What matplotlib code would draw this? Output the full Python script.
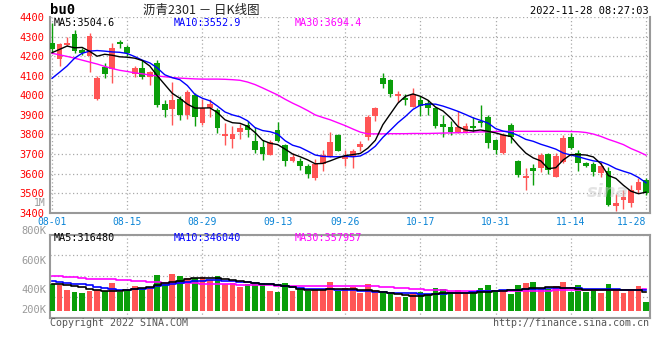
import matplotlib
matplotlib.use("Agg")
import matplotlib.pyplot as plt
import numpy as np
from matplotlib.ticker import LinearLocator

plt.rcParams['font.family'] = ['DejaVu Sans Mono', 'Noto Sans CJK SC']

# daily candles for bu2301
opens = [4268, 4187, 4255, 4315, 4232, 4200, 3982, 4146, 4136, 4271,
         4249, 4109, 4140, 4095, 4167, 3954, 3930, 3983, 3899, 4000,
         3860, 3937, 3925, 3792, 3777, 3814, 3848, 3769, 3736, 3697,
         3822, 3746, 3664, 3664, 3639, 3579, 3647, 3686, 3797, 3674,
         3692, 3734, 3785, 3896, 4087, 4078, 3996, 3988, 3942, 3976,
         3962, 3933, 3853, 3840, 3814, 3809, 3843, 3870, 3891, 3772,
         3703, 3848, 3666, 3576, 3627, 3630, 3698, 3585, 3661, 3789,
         3703, 3652, 3647, 3605, 3613, 3434, 3465, 3448, 3516, 3567]
highs = [4370, 4268, 4300, 4335, 4240, 4318, 4100, 4163, 4266, 4281,
         4258, 4150, 4180, 4125, 4180, 3975, 4070, 3995, 4025, 4010,
         3983, 3980, 3935, 3857, 3845, 3852, 3870, 3840, 3772, 3772,
         3865, 3750, 3704, 3682, 3650, 3674, 3720, 3814, 3800, 3720,
         3725, 3766, 3899, 3942, 4114, 4082, 4022, 4005, 4036, 3996,
         3976, 3942, 3899, 3870, 3919, 3857, 3891, 3951, 3899, 3775,
         3809, 3857, 3670, 3627, 3647, 3703, 3703, 3703, 3797, 3806,
         3720, 3661, 3661, 3661, 3635, 3496, 3516, 3542, 3576, 3576]
lows = [4218, 4151, 4250, 4215, 4205, 4120, 3978, 4087, 4061, 4240,
        4200, 4092, 4083, 4052, 3939, 3890, 3848, 3874, 3878, 3843,
        3848, 3890, 3806, 3746, 3732, 3777, 3785, 3707, 3669, 3693,
        3764, 3639, 3660, 3618, 3579, 3567, 3615, 3683, 3714, 3639,
        3627, 3717, 3772, 3870, 4036, 3990, 3967, 3951, 3940, 3894,
        3899, 3831, 3788, 3797, 3806, 3806, 3814, 3840, 3732, 3698,
        3700, 3754, 3585, 3516, 3542, 3606, 3596, 3580, 3655, 3725,
        3613, 3635, 3588, 3585, 3434, 3409, 3417, 3431, 3499, 3490]
closes = [4235, 4264, 4269, 4225, 4218, 4302, 4088, 4109, 4240, 4264,
          4215, 4140, 4096, 4120, 3950, 3925, 3976, 3899, 4015, 3888,
          3935, 3954, 3834, 3802, 3802, 3831, 3823, 3723, 3702, 3762,
          3766, 3666, 3686, 3639, 3599, 3647, 3695, 3760, 3717, 3690,
          3717, 3751, 3891, 3937, 4056, 4005, 4005, 3976, 4005, 3947,
          3937, 3845, 3840, 3814, 3836, 3843, 3834, 3860, 3755, 3720,
          3797, 3788, 3593, 3588, 3615, 3695, 3618, 3690, 3780, 3729,
          3652, 3639, 3610, 3639, 3439, 3448, 3479, 3516, 3558, 3502]

ma5 = [4218, 4235, 4252, 4243, 4245, 4225, 4200, 4210, 4205, 4197,
       4195, 4190, 4178, 4150, 4100, 4055, 4010, 3985, 3955, 3935,
       3935, 3936, 3912, 3875, 3860, 3857, 3842, 3810, 3770, 3755,
       3748, 3725, 3700, 3686, 3670, 3650, 3652, 3665, 3680, 3692,
       3697, 3703, 3730, 3770, 3850, 3905, 3960, 3995, 4007, 3995,
       3975, 3940, 3920, 3885, 3840, 3823, 3818, 3823, 3816, 3808,
       3797, 3790, 3745, 3705, 3680, 3665, 3625, 3630, 3670, 3697,
       3697, 3695, 3685, 3650, 3590, 3575, 3540, 3510, 3497, 3505]
ma10 = [4087, 4118, 4150, 4190, 4215, 4226, 4229, 4226, 4222, 4220,
        4214, 4198, 4180, 4166, 4140, 4105, 4090, 4080, 4050, 4005,
        3985, 3972, 3945, 3915, 3900, 3890, 3870, 3835, 3820, 3814,
        3802, 3768, 3745, 3734, 3715, 3695, 3688, 3686, 3686, 3688,
        3686, 3690, 3710, 3740, 3785, 3822, 3860, 3892, 3928, 3950,
        3955, 3955, 3945, 3932, 3918, 3902, 3885, 3872, 3858, 3830,
        3817, 3810, 3795, 3775, 3765, 3750, 3738, 3725, 3705, 3695,
        3686, 3675, 3665, 3660, 3645, 3625, 3612, 3600, 3580, 3553]
ma30 = [4215, 4207, 4199, 4190, 4180, 4170, 4160, 4148, 4137, 4128,
        4122, 4115, 4110, 4104, 4099, 4095, 4091, 4088, 4086, 4084,
        4083, 4083, 4083, 4082, 4080, 4077, 4068, 4055, 4038, 4020,
        4002, 3980, 3960, 3942, 3922, 3900, 3887, 3875, 3860, 3845,
        3828, 3812, 3803, 3803, 3803, 3804, 3804, 3804, 3805, 3805,
        3805, 3806, 3807, 3808, 3809, 3810, 3812, 3813, 3814, 3815,
        3816, 3816, 3816, 3816, 3816, 3816, 3816, 3816, 3816, 3815,
        3814, 3810, 3802, 3790, 3775, 3762, 3748, 3728, 3712, 3694]

# volume in thousands of lots
volume = [442, 430, 348, 315, 298, 331, 348, 326, 464, 315,
          343, 414, 359, 397, 596, 458, 618, 585, 540, 552,
          557, 513, 585, 447, 468, 392, 447, 474, 464, 331,
          315, 464, 331, 359, 336, 348, 359, 485, 331, 386,
          402, 303, 447, 348, 303, 281, 237, 237, 293, 315,
          265, 381, 364, 315, 348, 303, 320, 381, 430, 320,
          336, 281, 430, 468, 480, 359, 359, 414, 480, 320,
          430, 320, 359, 303, 447, 359, 303, 369, 414, 154]
vma5 = [441, 446, 430, 414, 390, 365, 340, 326, 326, 331,
        345, 364, 380, 400, 425, 459, 480, 502, 530, 545,
        550, 552, 545, 530, 515, 500, 480, 460, 450, 440,
        430, 410, 390, 370, 350, 340, 355, 364, 364, 364,
        360, 350, 348, 335, 320, 303, 280, 260, 248, 253,
        265, 281, 290, 293, 298, 303, 305, 310, 322, 330,
        336, 345, 352, 360, 375, 385, 390, 392, 385, 375,
        362, 348, 348, 348, 348, 348, 348, 348, 345, 316]
vma10 = [496, 485, 470, 455, 440, 425, 405, 385, 370, 355,
         350, 358, 370, 385, 410, 430, 445, 458, 475, 490,
         500, 508, 512, 505, 495, 485, 475, 460, 450, 440,
         430, 410, 390, 378, 370, 365, 362, 360, 355, 345,
         340, 335, 330, 320, 312, 305, 298, 293, 290, 283,
         276, 280, 288, 293, 293, 300, 315, 325, 332, 336,
         340, 345, 350, 358, 365, 372, 378, 385, 386, 384,
         378, 372, 369, 365, 362, 358, 352, 348, 345, 346]
vma30 = [583, 578, 570, 555, 545, 538, 530, 525, 522, 520,
         512, 505, 495, 480, 475, 470, 465, 460, 458, 456,
         452, 448, 444, 442, 440, 436, 432, 430, 428, 424,
         422, 420, 418, 416, 415, 414, 416, 418, 418, 420,
         420, 418, 416, 412, 405, 395, 385, 378, 372, 362,
         352, 345, 340, 335, 332, 330, 328, 326, 325, 325,
         326, 328, 330, 332, 335, 337, 338, 340, 342, 344,
         345, 346, 347, 348, 350, 352, 353, 355, 356, 358]

date_ticks = [0, 10, 20, 30, 39, 49, 59, 69, 79]
date_labels = ['08-01', '08-15', '08-29', '09-13', '09-26',
               '10-17', '10-31', '11-14', '11-28']
price_ticks = [3400, 3500, 3600, 3700, 3800, 3900, 4000, 4100, 4200, 4300, 4400]
vol_labels = ['1M', '800K', '600K', '400K', '200K']

RED = '#ff5555'
GREEN = '#0a9e0a'
GRID = '#aaaaaa'
FRAME = '#999999'
XBLUE = '#0a84d6'

W, H = 660, 360


def fx(px):
    return px / W


def fy(py):
    return 1 - py / H


fig = plt.figure(figsize=(W / 100, H / 100), dpi=100)
ax = fig.add_axes([fx(50), fy(212.7), 600 / W, 195.6 / H])
axv = fig.add_axes([fx(50), fy(318), 600 / W, 83.5 / H])

o = np.array(opens)
c = np.array(closes)
x = np.arange(len(o))
colors = np.where(c >= o, RED, GREEN)

# candles
ax.vlines(x, lows, highs, colors=colors, lw=1, zorder=3)
ax.bar(x, np.maximum(np.abs(c - o), 2), bottom=np.minimum(o, c), width=0.76,
       color=colors, lw=0, zorder=4)
ax.plot(x, ma30, color='#ff00ff', lw=1, zorder=5)
ax.plot(x, ma10, color='#0000ff', lw=1, zorder=5)
ax.plot(x, ma5, color='black', lw=1, zorder=5)

ax.set_xlim(-0.27, 79.53)
ax.set_ylim(3400, 4400)
ax.set_yticks(price_ticks)
ax.set_xticks(date_ticks)
ax.set_xticklabels(date_labels)
ax.tick_params(axis='y', length=0, pad=4, labelcolor='red', labelsize=7.5)
ax.tick_params(axis='x', length=0, pad=3, labelcolor=XBLUE, labelsize=7)
xt = ax.get_xticklabels()
xt[-1].set_ha('right')
xt[-1].set_x(79.53)
ax.grid(True, color=GRID, linestyle=(0, (1, 2)), lw=0.9)
ax.set_axisbelow(True)
for s in ['left', 'right', 'bottom']:
    ax.spines[s].set_color(FRAME)
    ax.spines[s].set_linewidth(1.5)
ax.spines['top'].set_visible(False)

ax.text(0.965, 0.06, 'sina', transform=ax.transAxes, ha='right', va='bottom',
        fontsize=13, fontweight='bold', style='italic', color='#c8c8c8',
        alpha=0.5, family='DejaVu Sans', zorder=6)

# volume
axv.bar(x, volume, width=0.76, color=colors, lw=0, zorder=3)
axv.plot(x, vma30, color='#ff00ff', lw=1.2, drawstyle='steps-mid', zorder=4)
axv.plot(x, vma10, color='#0000ff', lw=1.2, drawstyle='steps-mid', zorder=4)
axv.plot(x, vma5, color='black', lw=1.2, drawstyle='steps-mid', zorder=4)
axv.set_xlim(-0.27, 79.53)
axv.set_ylim(-116, 1267)
axv.yaxis.set_major_locator(LinearLocator(5))
axv.set_xticks(date_ticks[1:-1])
axv.tick_params(length=0, labelleft=False, labelbottom=False)
axv.grid(True, color=GRID, linestyle=(0, (1, 2)), lw=0.9)
axv.set_axisbelow(True)
for s in axv.spines.values():
    s.set_color(FRAME)
    s.set_linewidth(1.5)

for lab, py in zip(vol_labels, [203, 231, 261, 290, 310]):
    fig.text(fx(46), fy(py), lab, ha='right', va='center',
             fontsize=7 if lab == '1M' else 7.5, color='#999999')

# header texts
fig.text(fx(50), fy(10), 'bu0', ha='left', va='center', fontsize=10,
         fontweight='bold', color='black')
fig.text(fx(201), fy(10), '沥青2301 － 日K线图', ha='center', va='center',
         fontsize=9, family=['Noto Sans CJK SC', 'DejaVu Sans'], color='#222222')
fig.text(fx(649), fy(11), '2022-11-28 08:27:03', ha='right', va='center',
         fontsize=7.5, color='black')

fig.text(fx(54), fy(23), 'MA5:3504.6', ha='left', va='center', fontsize=7.3, color='black')
fig.text(fx(174), fy(23), 'MA10:3552.9', ha='left', va='center', fontsize=7.3, color='#0000ff')
fig.text(fx(295), fy(23), 'MA30:3694.4', ha='left', va='center', fontsize=7.3, color='#ff00ff')

fig.text(fx(54), fy(238), 'MA5:316480', ha='left', va='center', fontsize=7.3, color='black')
fig.text(fx(174), fy(238), 'MA10:346040', ha='left', va='center', fontsize=7.3, color='#0000ff')
fig.text(fx(295), fy(238), 'MA30:357957', ha='left', va='center', fontsize=7.3, color='#ff00ff')

fig.text(fx(50), fy(323), 'Copyright 2022 SINA.COM', ha='left', va='center',
         fontsize=7.2, color='#555555')
fig.text(fx(649), fy(323), 'http://finance.sina.com.cn', ha='right', va='center',
         fontsize=7.2, color='#555555')

fig.savefig('out.png', dpi=100, facecolor='white')
